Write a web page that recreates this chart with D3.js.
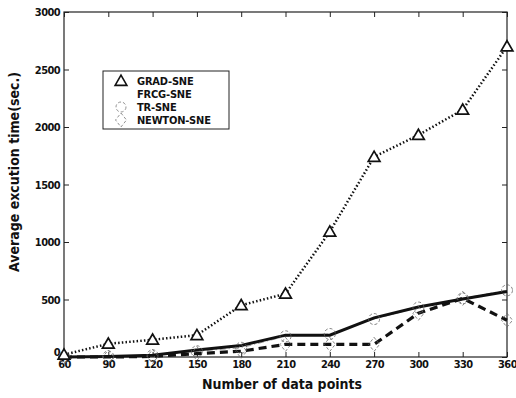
<!DOCTYPE html>
<html><head><meta charset="utf-8">
<script src="https://cdn.jsdelivr.net/npm/d3@7/dist/d3.min.js"></script>
<style>body{margin:0;background:#fff}svg{display:block}text{font-family:"DejaVu Sans Condensed","DejaVu Sans",sans-serif;fill:#111}</style>
</head><body><svg id="c" width="516" height="398"></svg>
<script>
const xValues = [60, 90, 120, 150, 180, 210, 240, 270, 300, 330, 360];
const gradSNE = [20, 115, 150, 190, 450, 550, 1090, 1740, 1930, 2150, 2700];
const frcgSNE = [0, 5, 15, 60, 100, 190, 190, 340, 435, 505, 570];
const trSNE = [0, 5, 15, 50, 80, 180, 200, 330, 430, 510, 580];
const newtonSNE = [0, 0, 5, 30, 50, 110, 110, 110, 380, 510, 320];
const yTicks = [0, 500, 1000, 1500, 2000, 2500, 3000];
const seriesNames = ["GRAD-SNE", "FRCG-SNE", "TR-SNE", "NEWTON-SNE"];

const svg = d3.select("#c");
const L = 64, R = 507, T = 12, B = 357;
const x = d3.scaleLinear().domain([60, 360]).range([L, R]);
const y = d3.scaleLinear().domain([0, 3000]).range([B, T]);

svg.append("rect").attr("x", L).attr("y", T).attr("width", R - L).attr("height", B - T)
  .attr("fill", "none").attr("stroke", "#222").attr("stroke-width", 1.2);

const fmt = d3.format("d");
const xa = svg.append("g").attr("transform", `translate(0,${B})`)
  .call(d3.axisBottom(x).tickValues(xValues).tickSize(-5).tickPadding(3).tickFormat(fmt));
const xt = svg.append("g").attr("transform", `translate(0,${T})`)
  .call(d3.axisTop(x).tickValues(xValues).tickSize(-5).tickFormat(""));
const ya = svg.append("g").attr("transform", `translate(${L},0)`)
  .call(d3.axisLeft(y).tickValues(yTicks).tickSize(-5).tickPadding(4).tickFormat(fmt));
const yr = svg.append("g").attr("transform", `translate(${R},0)`)
  .call(d3.axisRight(y).tickValues(yTicks).tickSize(-5).tickFormat(""));
[xa, xt, ya, yr].forEach(g => { g.select(".domain").remove(); g.selectAll("line").attr("stroke", "#222"); });
[xa, ya].forEach(g => g.selectAll("text").attr("font-size", 11).attr("font-weight", "bold").attr("letter-spacing", "-0.6").attr("fill", "#111"));
xa.selectAll("text").attr("dy", "0.75em");
ya.selectAll("text").filter(d => d === 0).attr("dy", "-0.15em");

svg.append("text").attr("x", 282).attr("y", 389).attr("text-anchor", "middle")
  .attr("font-size", 14).attr("font-weight", "bold").text("Number of data points");
svg.append("text").attr("transform", "translate(19,172) rotate(-90)").attr("text-anchor", "middle")
  .attr("font-size", 14).attr("font-weight", "bold").text("Average excution time(sec.)");

const line = d3.line().x((d, i) => x(xValues[i])).y(d => y(d));

svg.append("path").datum(trSNE).attr("d", line).attr("fill", "none").attr("stroke", "#888")
  .attr("stroke-width", 0.8).attr("stroke-dasharray", "6,3,1,3");
svg.append("path").datum(frcgSNE).attr("d", line).attr("fill", "none").attr("stroke", "#111")
  .attr("stroke-width", 3);
svg.append("path").datum(newtonSNE).attr("d", line).attr("fill", "none").attr("stroke", "#111")
  .attr("stroke-width", 3.2).attr("stroke-dasharray", "8,5");
svg.append("path").datum(gradSNE).attr("d", line).attr("fill", "none").attr("stroke", "#111")
  .attr("stroke-width", 2.5).attr("stroke-dasharray", "1.5,2.2");

const tri = d3.symbol().type(d3.symbolTriangle).size(60);
const dia = "M0,-7L5.5,0L0,7L-5.5,0Z";
svg.append("g").selectAll("circle").data(trSNE).join("circle")
  .attr("cx", (d, i) => x(xValues[i])).attr("cy", d => y(d)).attr("r", 5.5)
  .attr("fill", "none").attr("stroke", "#666").attr("stroke-width", 0.8).attr("stroke-dasharray", "3,2");
svg.append("g").selectAll("path").data(newtonSNE).join("path")
  .attr("d", dia).attr("transform", (d, i) => `translate(${x(xValues[i])},${y(d)})`)
  .attr("fill", "none").attr("stroke", "#666").attr("stroke-width", 0.8).attr("stroke-dasharray", "3,2");
svg.append("g").selectAll("path").data(gradSNE).join("path")
  .attr("d", tri).attr("transform", (d, i) => `translate(${x(xValues[i])},${y(d) + 1})`)
  .attr("fill", "#fff").attr("stroke", "#111").attr("stroke-width", 1.7);

const lg = svg.append("g");
lg.append("rect").attr("x", 103).attr("y", 71).attr("width", 126).attr("height", 58)
  .attr("fill", "#fff").attr("stroke", "#222").attr("stroke-width", 1);
const ly = [81, 94, 107, 120];
seriesNames.forEach((n, i) => {
  lg.append("text").attr("x", 137).attr("y", ly[i] + 4).attr("font-size", 11)
    .attr("font-weight", "bold").attr("letter-spacing", "-0.2").text(n);
});
lg.append("path").attr("d", tri).attr("transform", `translate(121,${ly[0] + 1})`)
  .attr("fill", "none").attr("stroke", "#111").attr("stroke-width", 1.6);
lg.append("circle").attr("cx", 121).attr("cy", ly[2]).attr("r", 5)
  .attr("fill", "none").attr("stroke", "#777").attr("stroke-width", 0.8).attr("stroke-dasharray", "3,2");
lg.append("path").attr("d", dia).attr("transform", `translate(121,${ly[3]})`)
  .attr("fill", "none").attr("stroke", "#777").attr("stroke-width", 0.8).attr("stroke-dasharray", "3,2");
</script></body></html>
